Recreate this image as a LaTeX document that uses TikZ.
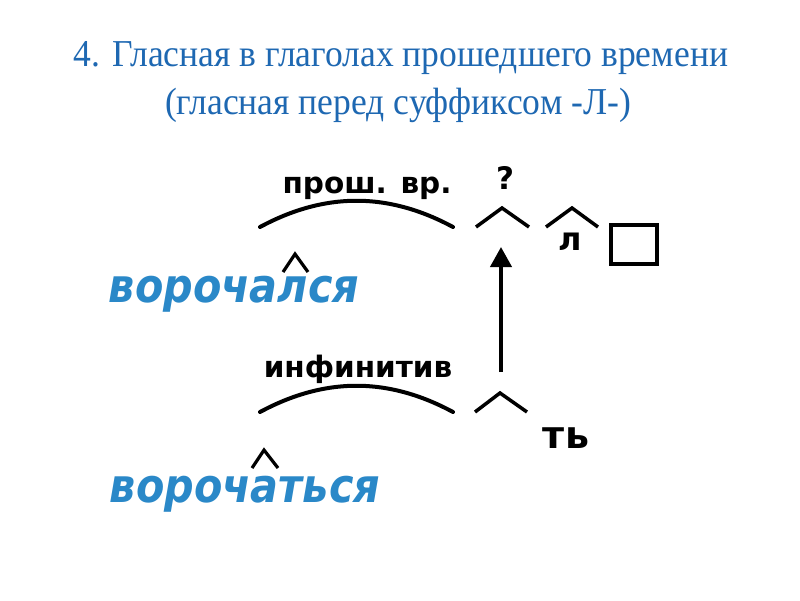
\documentclass[tikz,border=0pt]{standalone}
\usepackage{fontspec}
\setmainfont{Liberation Serif}
\newfontfamily\lblfont{DejaVu Sans}
\usetikzlibrary{arrows.meta}
\definecolor{titleblue}{RGB}{30,104,178}
\definecolor{wordblue}{RGB}{42,136,200}
\newcommand{\narrow}[1]{\scalebox{0.88}[1]{#1}}
\newcommand{\tnarrow}[1]{\scalebox{0.935}[1]{#1}}
\begin{document}
\begin{tikzpicture}[x=1pt,y=-1pt,
  title/.style={anchor=base,inner sep=0pt,text=titleblue,font=\fontsize{38}{38}\selectfont},
  lbl/.style={anchor=base,inner sep=0pt,font=\lblfont\bfseries\fontsize{29.5}{29.5}\selectfont},
  word/.style={anchor=base,inner sep=0pt,text=wordblue,font=\lblfont\bfseries\itshape\fontsize{47}{47}\selectfont},
  arcline/.style={line width=4pt,line cap=round},
  caretline/.style={line width=3.5pt},
  thincaret/.style={line width=3.2pt}]
\useasboundingbox (0,0) rectangle (800,600);
\fill[white] (0,0) rectangle (800,600);
% title
\node[title] (t1) at (401,66) {\tnarrow{4. Гласная в глаголах прошедшего времени}};
\node[title] (t2) at (398,114) {\tnarrow{(гласная перед суффиксом -Л-)}};
% upper scheme
\node[lbl] (past) at (367,193) {прош. вр.};
\node[lbl,font=\lblfont\bfseries\fontsize{31}{31}\selectfont] (q) at (505,189) {?};
\draw[arcline] (260,227) .. controls (325,192) and (388,192) .. (453,227);
\draw[caretline] (476,227) -- (502,208) -- (529,227);
\draw[caretline] (546,227) -- (572,208) -- (598,227);
\node[lbl,font=\lblfont\bfseries\fontsize{32}{32}\selectfont] (l) at (570,250) {л};
\node[draw,line width=4pt,minimum width=46pt,minimum height=39pt,inner sep=0pt] (box) at (634,244.5) {};
% words
\node[word] (w1) at (234,302) {\narrow{ворочался}};
\draw[thincaret] (283,272) -- (295,254) -- (308,272);
% lower scheme
\node[lbl] (inf) at (358,377) {инфинитив};
\draw[arcline] (260,412) .. controls (325,377) and (388,377) .. (453,412);
\draw[caretline] (475,412) -- (500,393) -- (527,412);
\node[lbl,font=\lblfont\bfseries\fontsize{38}{38}\selectfont] (ts) at (566,448) {ть};
\node[word] (w2) at (245,502) {\narrow{ворочаться}};
\draw[thincaret] (252,468) -- (264,450) -- (278,468);
% arrow
\coordinate (a1) at (501,372);
\coordinate (a2) at (501,247);
\draw[line width=4pt,-{Triangle[width=21pt,length=20pt]}] (a1) -- (a2);
\end{tikzpicture}
\end{document}
